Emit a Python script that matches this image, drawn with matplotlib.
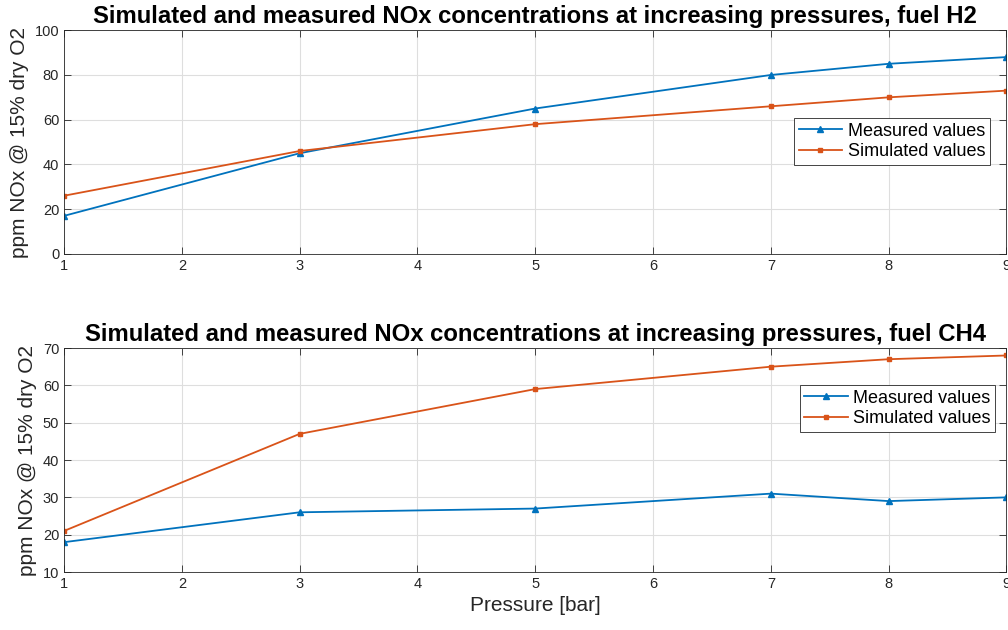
import matplotlib.pyplot as plt

# Data
pressure = [1, 3, 5, 7, 8, 9]
h2_measured = [17, 45, 65, 80, 85, 88]
h2_simulated = [26, 46, 58, 66, 70, 73]
ch4_measured = [18, 26, 27, 31, 29, 30]
ch4_simulated = [21, 47, 59, 65, 67, 68]

plt.rcParams['font.family'] = ['Liberation Sans', 'DejaVu Sans']

blue = '#0072BD'
orange = '#D95319'
axcol = '#262626'

fig = plt.figure(figsize=(10.08, 6.3), dpi=100)
ax1 = fig.add_axes([0.0635, 0.597, 0.935, 0.355])
ax2 = fig.add_axes([0.0635, 0.092, 0.935, 0.3556])


def style(ax, ylim, yticks, title, legend_anchor):
    ax.set_xlim(1, 9)
    ax.set_ylim(*ylim)
    ax.set_xticks(range(1, 10))
    ax.set_yticks(yticks)
    ax.grid(True, color='#dedede', linewidth=0.8)
    ax.set_axisbelow(True)
    ax.tick_params(direction='in', top=True, right=True, labelsize=10.5,
                   colors=axcol, length=5, width=0.6, labelcolor=axcol)
    for s in ax.spines.values():
        s.set_color(axcol)
        s.set_linewidth(0.6)
    ax.set_title(title, fontsize=17.2, fontweight='bold', pad=5)
    ax.set_ylabel('ppm NOx @ 15% dry O2', fontsize=15, color=axcol)
    leg = ax.legend(loc='center right', bbox_to_anchor=legend_anchor,
                    fontsize=13, fancybox=False, framealpha=1,
                    edgecolor=axcol, handlelength=2.4, borderpad=0.25,
                    labelspacing=0.2, handletextpad=0.3, borderaxespad=0)
    leg.get_frame().set_linewidth(0.6)


ax1.plot(pressure, h2_measured, color=blue, marker='^', markersize=4, linewidth=1.3, label='Measured values')
ax1.plot(pressure, h2_simulated, color=orange, marker='s', markersize=3, linewidth=1.3, label='Simulated values')
style(ax1, (0, 100), range(0, 101, 20),
      'Simulated and measured NOx concentrations at increasing pressures, fuel H2',
      (0.982, 0.502))

ax2.plot(pressure, ch4_measured, color=blue, marker='^', markersize=4, linewidth=1.3, label='Measured values')
ax2.plot(pressure, ch4_simulated, color=orange, marker='s', markersize=3, linewidth=1.3, label='Simulated values')
style(ax2, (10, 70), range(10, 71, 10),
      'Simulated and measured NOx concentrations at increasing pressures, fuel CH4',
      (0.988, 0.73))
ax2.set_xlabel('Pressure [bar]', fontsize=15, color=axcol)

fig.savefig('out.png', dpi=100)
